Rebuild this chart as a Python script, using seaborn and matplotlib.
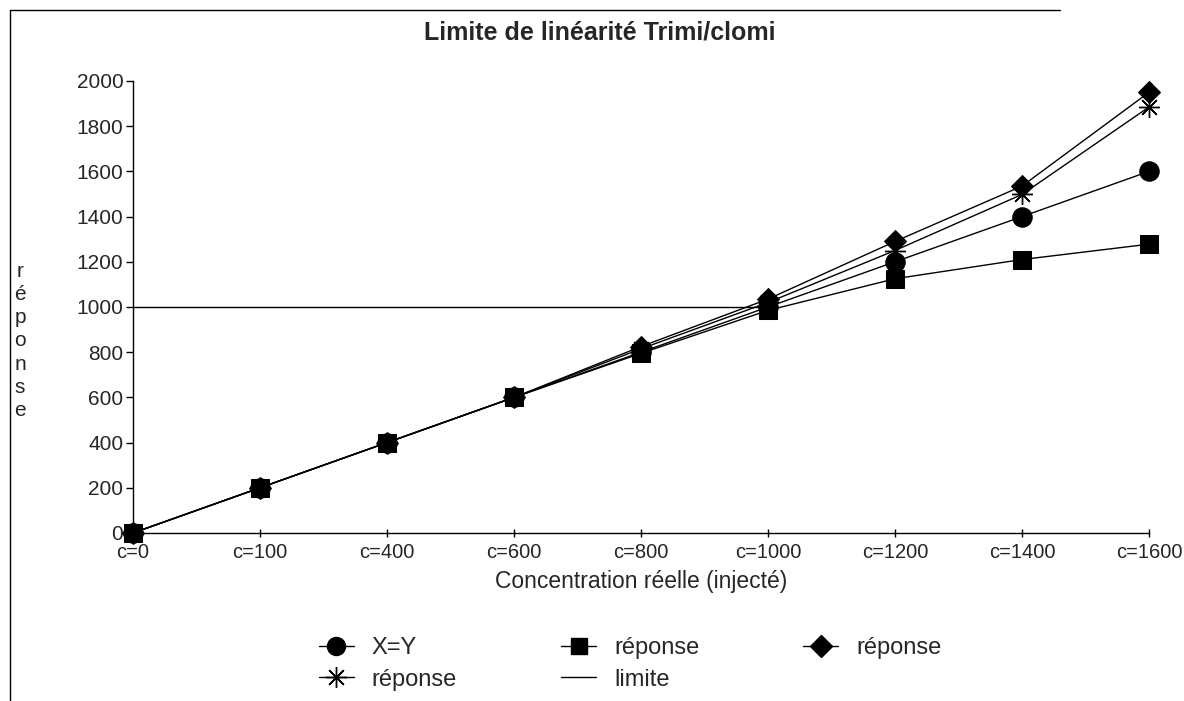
import pandas as pd
import numpy as np
import matplotlib.pyplot as plt
import seaborn as sns
from matplotlib.lines import Line2D

# --- data ---
categories = ['c=0', 'c=100', 'c=400', 'c=600', 'c=800', 'c=1000', 'c=1200', 'c=1400', 'c=1600']
x_eq_y = [0, 200, 400, 600, 800, 1000, 1200, 1400, 1600]
rep_square = [0, 200, 400, 600, 795, 985, 1125, 1210, 1278]
rep_diamond = [0, 200, 400, 600, 825, 1035, 1290, 1535, 1950]
rep_star = [0, 200, 400, 600, 815, 1020, 1250, 1498, 1885]
limite = [1000, 1000, 1000, 1000, 1000, 1000, np.nan, np.nan, np.nan]
y_ticks = [0, 200, 400, 600, 800, 1000, 1200, 1400, 1600, 1800, 2000]

df = pd.DataFrame({
    'c': categories,
    'X=Y': x_eq_y,
    'sq': rep_square,
    'di': rep_diamond,
    'st': rep_star,
    'limite': limite,
})

sns.set_theme(style="white")
plt.rcParams['font.family'] = ['Liberation Sans', 'DejaVu Sans']

fig = plt.figure(figsize=(11.84, 7.01), dpi=100)
ax = fig.add_axes([133 / 1184, 1 - 533 / 701, (1149 - 133) / 1184, (533 - 81) / 701])

lw = 1.0
common = dict(color='black', linewidth=lw, sort=False, ax=ax, clip_on=False, legend=False)
sns.lineplot(data=df, x='c', y='limite', **common)
sns.lineplot(data=df, x='c', y='X=Y', marker='o', markersize=14, markeredgecolor='black', **common)
sns.lineplot(data=df, x='c', y='sq', marker='s', markersize=12.5, markeredgecolor='black', **common)
sns.lineplot(data=df, x='c', y='st', marker=(8, 2, 0), markersize=15, markeredgewidth=1.0,
             markeredgecolor='black', **common)
sns.lineplot(data=df, x='c', y='di', marker='D', markersize=11, markeredgecolor='black', **common)

ax.set_xlim(0, len(categories) - 1)
ax.set_ylim(0, 2000)
ax.set_yticks(y_ticks)
ax.set_yticklabels([str(v) for v in y_ticks], fontsize=15)
ax.set_xticks(range(len(categories)))
ax.set_xticklabels(categories, fontsize=14.5)
ax.tick_params(axis='y', direction='out', length=5, width=1, color='black', pad=2, left=True)
ax.tick_params(axis='x', direction='inout', length=6, width=1, color='black', pad=4, bottom=True)
for s in ['top', 'right']:
    ax.spines[s].set_visible(False)
for s in ['left', 'bottom']:
    ax.spines[s].set_color('black')
    ax.spines[s].set_linewidth(1)

ax.set_ylabel('')
ax.set_xlabel('Concentration réelle (injecté)', fontsize=16.5, labelpad=6)

fig.text(600 / 1184, 1 - 33 / 701, 'Limite de linéarité Trimi/clomi', ha='center', va='center',
         fontsize=18, fontweight='bold')
fig.text(20 / 1184, 1 - 341 / 701, '\n'.join('réponse'), ha='center', va='center',
         fontsize=15, linespacing=1.27)

# frame around figure (left and top edges)
fig.add_artist(Line2D([10 / 1184, 10 / 1184], [0, 1 - 10 / 701], color='black', lw=1))
fig.add_artist(Line2D([10 / 1184, 1060 / 1184], [1 - 10 / 701, 1 - 10 / 701], color='black', lw=1))

# legend, row-wise order via column-major filling
h_xy = Line2D([], [], color='black', lw=lw, marker='o', markersize=13)
h_sq = Line2D([], [], color='black', lw=lw, marker='s', markersize=12)
h_di = Line2D([], [], color='black', lw=lw, marker='D', markersize=11)
h_st = Line2D([], [], color='black', lw=lw, marker=(8, 2, 0), markersize=15, markeredgewidth=1.0)
h_li = Line2D([], [], color='black', lw=lw)
fig.legend([h_xy, h_st, h_sq, h_li, h_di],
           ['X=Y', 'réponse', 'réponse', 'limite', 'réponse'],
           ncol=3, loc='center', bbox_to_anchor=(630 / 1184, 1 - 664 / 701),
           frameon=False, fontsize=17, handlelength=1.5, columnspacing=4.4,
           labelspacing=0.4, handletextpad=0.75)

plt.savefig('out.png', dpi=100)
